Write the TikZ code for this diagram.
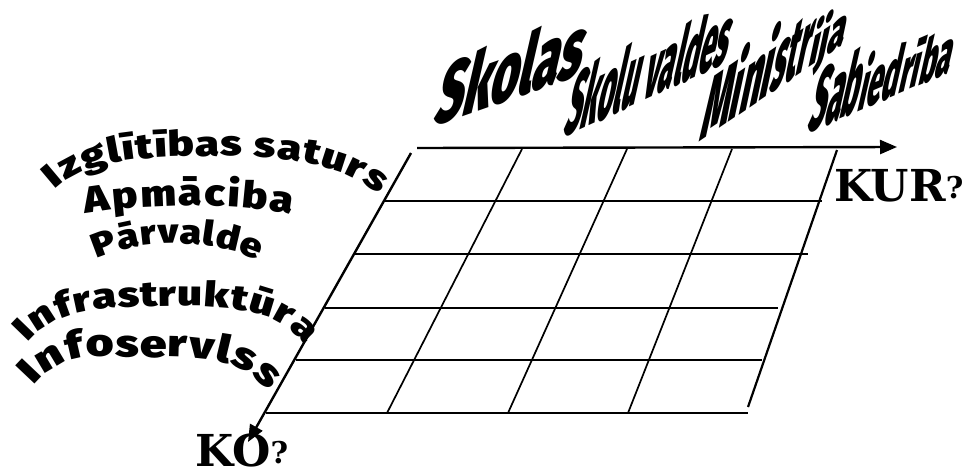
\documentclass[tikz,border=0pt]{standalone}
\usepackage{fontspec}
\usepackage{graphicx}
\usetikzlibrary{arrows.meta,decorations.text}
\IfFontExistsTF{Fira Sans Black}{%
  \newfontfamily\heavyfont{Fira Sans Black}%
  \newfontfamily\blackfont{Fira Sans Black}[FakeStretch=1.25]%
  \newfontfamily\blackmid{Fira Sans Black}[FakeStretch=1.15]%
}{\IfFontExistsTF{Lato Black}{%
  \newfontfamily\heavyfont{Lato Black}%
  \newfontfamily\blackfont{Lato Black}[FakeStretch=1.3]%
  \newfontfamily\blackmid{Lato Black}[FakeStretch=1.2]%
}{%
  \newfontfamily\heavyfont{DejaVu Sans}[UprightFont=* Bold]%
  \newfontfamily\blackfont{DejaVu Sans}[UprightFont=* Bold]%
  \newfontfamily\blackmid{DejaVu Sans}[UprightFont=* Bold]%
}}
\newfontfamily\kurfont{DejaVu Serif}[UprightFont=* Bold]
\begin{document}
\begin{tikzpicture}[x=1pt,y=-1pt,
  rowline/.style={line width=2.8pt},
  colline/.style={line width=1.7pt},
  edgeline/.style={line width=2.2pt},
  axis/.style={line width=2.4pt,-{Triangle[length=17pt,width=14pt]}},
  arch/.style={decorate,decoration={text along path,text align=fit to path,text={#1}}},
  toplabel/.style={yslant=#1,xslant=0.25,anchor=base west,inner sep=0pt,font=\heavyfont},
  qlabel/.style={anchor=base west,inner sep=0pt,font=\kurfont\fontsize{44}{44}\selectfont}]
\useasboundingbox (0,0) rectangle (967,472);
% grid coordinates
\coordinate (t0) at (417,148); \coordinate (tE) at (897,147);
\coordinate (l0) at (411,153); \coordinate (lE) at (248,442);
\coordinate (r1a) at (385,201); \coordinate (r1b) at (822,201);
\coordinate (r2a) at (355,254); \coordinate (r2b) at (808,254);
\coordinate (r3a) at (325,308); \coordinate (r3b) at (778,308);
\coordinate (r4a) at (296,360); \coordinate (r4b) at (762,360);
\coordinate (r5a) at (266,413); \coordinate (r5b) at (748,413);
\coordinate (v1a) at (522,149); \coordinate (v1b) at (387,413);
\coordinate (v2a) at (627,149); \coordinate (v2b) at (508,413);
\coordinate (v3a) at (732,149); \coordinate (v3b) at (628,413);
\coordinate (v4a) at (837,150); \coordinate (v4b) at (748,407);
% rows
\draw[rowline] (r1a) -- (r1b);
\draw[rowline] (r2a) -- (r2b);
\draw[rowline] (r3a) -- (r3b);
\draw[rowline] (r4a) -- (r4b);
\draw[rowline] (r5a) -- (r5b);
% columns
\draw[colline] (v1a) -- (v1b);
\draw[colline] (v2a) -- (v2b);
\draw[colline] (v3a) -- (v3b);
\draw[edgeline] (v4a) -- (v4b);
% axes
\draw[axis] (t0) -- (tE);
\draw[axis] (l0) -- (lE);
% top labels
\node[toplabel=0.35] (skolas) at (432,127) {\resizebox{147pt}{62pt}{Skolas}};
\node[toplabel=0.46] (valdes1) at (562,138) {\resizebox{73pt}{63pt}{Skolu}};
\node[toplabel=0.46] (valdes2) at (valdes1.base east) {\resizebox{90pt}{58pt}{\ valdes}};
\node[toplabel=0.68] (ministrija1) at (698,143) {\resizebox{70pt}{66pt}{Mini}};
\node[toplabel=0.68] (ministrija2) at (ministrija1.base east) {\resizebox{38pt}{53pt}{str}};
\node[toplabel=0.68] (ministrija3) at (ministrija2.base east) {\resizebox{36pt}{42pt}{ija}};
\node[toplabel=0.43] (sabiedriba1) at (806,134) {\resizebox{50pt}{63pt}{Sab}};
\node[toplabel=0.43] (sabiedriba2) at (sabiedriba1.base east) {\resizebox{40pt}{54pt}{ied}};
\node[toplabel=0.43] (sabiedriba3) at (sabiedriba2.base east) {\resizebox{52pt}{46pt}{rība}};
% arched labels
\path[arch={|\blackfont\fontsize{35}{38}\selectfont|Izglītības saturs}]
  (55,190) .. controls (85,160) and (140,157) .. (205,156) .. controls (270,155) and (340,160) .. (378,195);
\path[arch={|\blackmid\fontsize{37}{40}\selectfont|Apmāciba}]
  (86,214) .. controls (150,203) and (230,203) .. (292,214);
\path[arch={|\blackmid\fontsize{34}{38}\selectfont|Pārvalde}]
  (97,259) .. controls (140,238) and (210,238) .. (258,260);
\path[arch={|\blackfont\fontsize{35}{38}\selectfont|Infrastruktūra}]
  (28,343) .. controls (60,305) and (110,307) .. (170,306) .. controls (230,305) and (280,310) .. (305,345);
\path[arch={|\blackfont\fontsize{38}{40}\selectfont|Infoservlss}]
  (34,386) .. controls (66,347) and (105,357) .. (145,357) .. controls (195,357) and (242,356) .. (268,391);
% question labels
\node[qlabel] (kur) at (834,201) {KUR\raisebox{3pt}{\fontsize{30}{30}\selectfont ?}};
\node[qlabel] (ko) at (195,466) {KO\raisebox{3pt}{\fontsize{30}{30}\selectfont ?}};
\end{tikzpicture}
\end{document}
